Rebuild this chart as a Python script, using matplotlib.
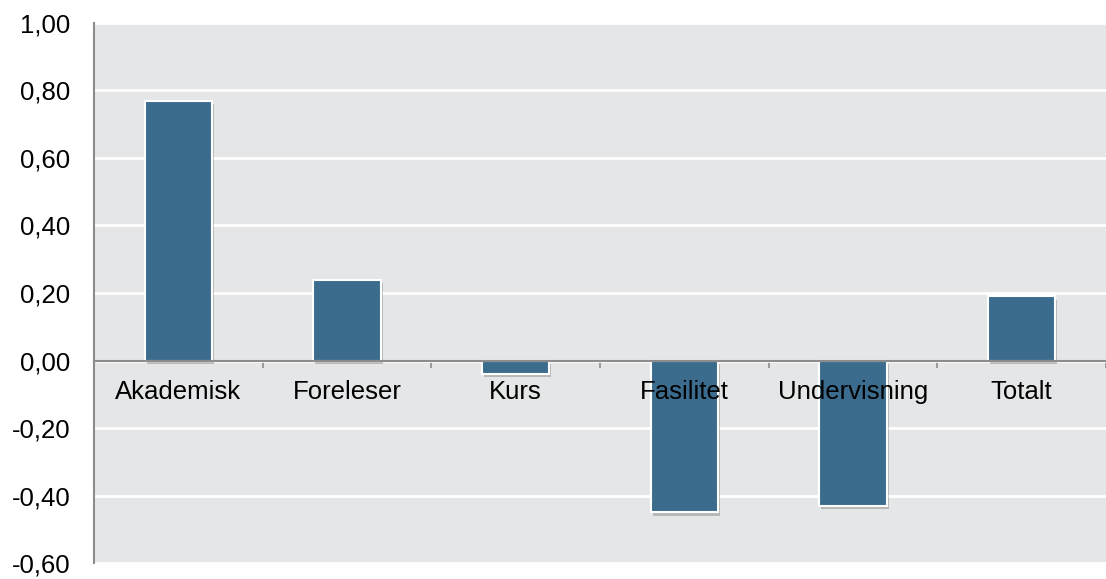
import matplotlib
matplotlib.use('Agg')
import matplotlib.pyplot as plt
import matplotlib.patheffects as pe
import numpy as np

# data
categories = ['Akademisk', 'Foreleser', 'Kurs', 'Fasilitet', 'Undervisning', 'Totalt']
values = [0.77, 0.24, -0.04, -0.45, -0.43, 0.19]

plt.rcParams['font.family'] = ['Liberation Sans', 'DejaVu Sans']

fig = plt.figure(figsize=(11.06, 5.79), dpi=100)
ax = fig.add_axes([0.085, 0.0276, 0.915, 0.9327])
ax.set_facecolor('#E5E6E7')

x = np.arange(len(categories))
bars = ax.bar(x, values, width=0.4, color='#3B6C8E', edgecolor='white', linewidth=1.5, zorder=3)
for b in bars:
    b.set_path_effects([pe.SimplePatchShadow(offset=(1.5, -2.5), shadow_rgbFace='#606060', alpha=0.35), pe.Normal()])

ax.set_xlim(-0.5, len(categories) - 0.5)
ax.set_ylim(-0.6, 1.0)
yt = np.arange(-0.6, 1.01, 0.2)
ax.set_yticks(yt)
ax.set_yticklabels([('%.2f' % v).replace('.', ',').replace('-0,00', '0,00') for v in yt], fontsize=18.5)
ax.tick_params(axis='y', length=0, pad=17)
ax.yaxis.grid(True, color='white', linewidth=2, zorder=0)
ax.set_axisbelow(True)

# ticks between categories, labels drawn over the bars
ax.set_xticks(np.arange(-0.5, len(categories) - 0.4, 1.0))
ax.set_xticklabels([])
ax.tick_params(axis='x', which='major', length=5, width=1.2, color='#8C8C8C', direction='out')
for xi, name in zip(x, categories):
    ax.annotate(name, xy=(xi, 0), xytext=(0, -22.5), textcoords='offset points',
                ha='center', va='center', fontsize=18.5, zorder=6)

ax.spines['bottom'].set_position(('data', 0))
ax.spines['bottom'].set_color('#8C8C8C')
ax.spines['bottom'].set_linewidth(1.5)
ax.spines['bottom'].set_zorder(4)
ax.spines['left'].set_color('#8C8C8C')
ax.spines['left'].set_linewidth(1.5)
ax.spines['top'].set_visible(False)
ax.spines['right'].set_visible(False)

fig.savefig('out.png', dpi=100)
